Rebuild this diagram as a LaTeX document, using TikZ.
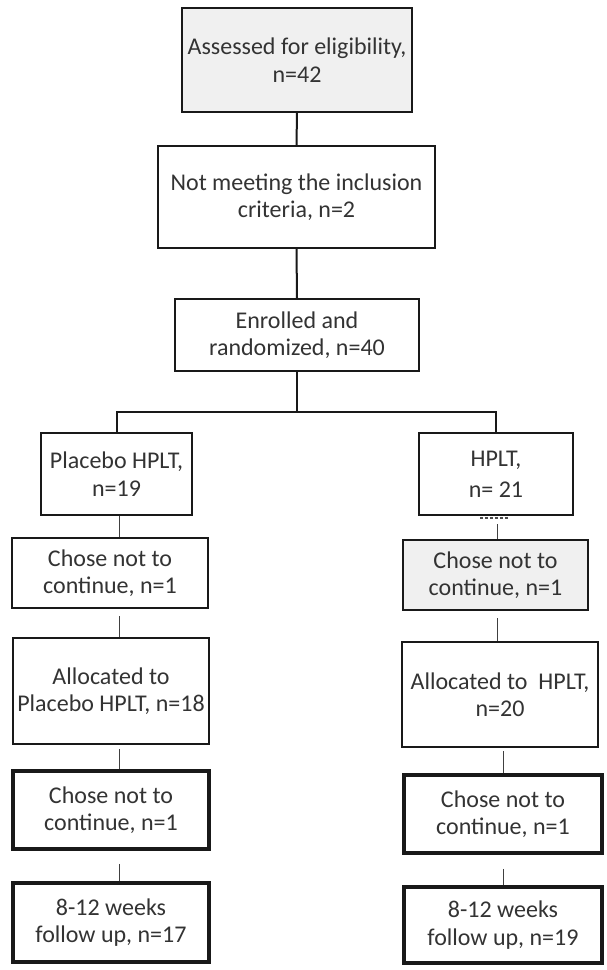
\documentclass[tikz,border=0pt]{standalone}
\usepackage{fontspec}
\setmainfont{Carlito}
\begin{document}
\begin{tikzpicture}[x=1pt,y=-1pt,
  box/.style={draw=black!90, line width=2pt, rectangle, inner sep=0pt, align=center,
    text=black!80, font=\fontsize{24}{27.5}\selectfont},
  thickbox/.style={box, line width=3.5pt},
  grayfill/.style={fill=black!6},
  conn/.style={draw=black!90, line width=2pt},
  thinconn/.style={draw=black!75, line width=1pt}]
\useasboundingbox[fill=white] (0,0) rectangle (607,970);

\node[box, grayfill, minimum width=230pt, minimum height=104pt] (b1) at (297,60) {Assessed for eligibility,\\n=42};
\node[box, minimum width=277pt, minimum height=102pt] (b2) at (296.5,197) {Not meeting the inclusion\\criteria, n=2};
\node[box, minimum width=244pt, minimum height=72pt] (b3) at (297,335) {Enrolled and\\randomized, n=40};

\node[box, minimum width=151pt, minimum height=82pt] (b4) at (116.5,474) {Placebo HPLT,\\n=19};
\node[box, minimum width=154pt, minimum height=82pt, font=\fontsize{24}{31}\selectfont] (b5) at (496,474) {HPLT,\\n= 21};

\node[box, minimum width=196pt, minimum height=70pt] (b6) at (110,573) {Chose not to\\continue, n=1};
\node[box, grayfill, minimum width=185pt, minimum height=70pt] (b7) at (495.5,575) {Chose not to\\continue, n=1};

\node[box, minimum width=196pt, minimum height=106pt] (b8) at (111,691) {Allocated to\\Placebo HPLT, n=18};
\node[box, minimum width=196pt, minimum height=105pt] (b11) at (500,694.5) {Allocated to~ HPLT,\\n=20};

\node[thickbox, minimum width=196pt, minimum height=78pt] (b9) at (111,810) {Chose not to\\continue, n=1};
\node[thickbox, minimum width=198pt, minimum height=78pt] (b12) at (503,814) {Chose not to\\continue, n=1};

\node[thickbox, minimum width=196pt, minimum height=79pt] (b10) at (111,922.5) {8-12 weeks\\follow up, n=17};
\node[thickbox, minimum width=198pt, minimum height=76pt] (b13) at (503,925) {8-12 weeks\\follow up, n=19};

% trunk
\coordinate (jc) at (297,412);
\coordinate (L) at (119,0);
\coordinate (R) at (497,0);
\coordinate (R2) at (503,0);
\draw[conn] (b1.south) -- (b2.north);
\draw[conn] (b2.south) -- (b3.north);
\draw[conn] (b3.south) -- (jc);
\draw[conn] (b4.north) -- (b4.north |- jc) -- (b5.north |- jc) -- (b5.north);

% left column
\draw[thinconn] (b4.south -| L) -- (b6.north -| L);
\draw[thinconn] ([yshift=-7pt]b6.south -| L) -- (b8.north -| L);
\draw[thinconn] ([yshift=-4pt]b8.south -| L) -- (b9.north -| L);
\draw[thinconn] ([yshift=-13pt]b9.south -| L) -- (b10.north -| L);

% right column
\draw[black!70, line width=1.5pt, dash pattern=on 3pt off 2pt] (480,518) -- (509,518);
\draw[thinconn] ([yshift=-8pt]b5.south -| R) -- (b7.north -| R);
\draw[thinconn] ([yshift=-7pt]b7.south -| R) -- (b11.north -| R);
\draw[thinconn] ([yshift=-3pt]b11.south -| R2) -- (b12.north -| R2);
\draw[thinconn] ([yshift=-14pt]b12.south -| R2) -- (b13.north -| R2);
\end{tikzpicture}
\end{document}
